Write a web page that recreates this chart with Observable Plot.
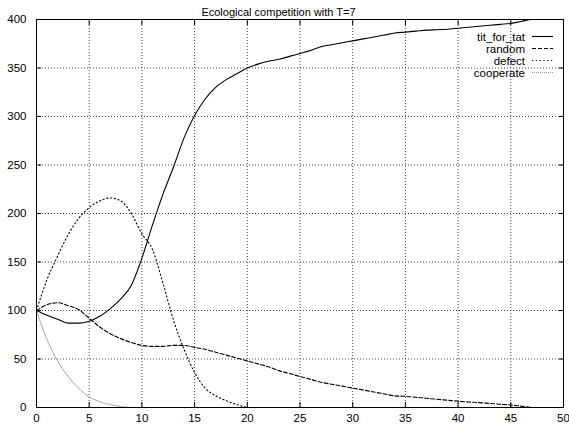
<!DOCTYPE html>
<html><head><meta charset="utf-8">
<script src="https://cdn.jsdelivr.net/npm/d3@7"></script>
<script src="https://cdn.jsdelivr.net/npm/@observablehq/plot@0.6"></script>
<style>body{margin:0;background:#fff} svg{display:block}</style>
</head><body><div id="chart"></div>
<script>
const title = "Ecological competition with T=7";
const seriesNames = ["tit_for_tat", "random", "defect", "cooperate"];
// values indexed by generation (0, 1, 2, ...)
const titForTat = [100,95,91,87,87,89,94,102,112,126,154,188,220,248,278,301,318,330,338,344,350,354,357,359,362,365,368,372,374,376,378,380,382,384,386,387,388,389,389.5,390,391,392,393,394,395,396,398,400,400,400,400];
const randomS = [100,106,108,105,101,92,83,76,71,67,64,63,63,64,64,62,60,57,54,51,48,45,42,38,35,32,29,26,24,22,20,18,16,14,12,11.5,10.5,9.5,8.5,7.5,6.5,5.7,5,4.2,3.4,2.6,1.3,0];
const defect = [100,132,156,178,195,206,213,216,213,200,179,163,128,90,60,36,20,12,7,3,0];
const cooperate = [100,70,48,32,20,11,6,3,1,0];
const xTicks = [0,5,10,15,20,25,30,35,40,45,50];
const yTicks = [0,50,100,150,200,250,300,350,400];

const allSeries = [titForTat, randomS, defect, cooperate];
const rows = [];
allSeries.forEach((vals, s) => vals.forEach((v, g) => rows.push({series: seriesNames[s], gen: g, value: v})));

const styles = {
  tit_for_tat: {stroke: "#000", dash: null, width: 1.1},
  random: {stroke: "#000", dash: "4,2", width: 1.1},
  defect: {stroke: "#000", dash: "1.2,2.6", width: 1.1},
  cooperate: {stroke: "#999", dash: "1,1", width: 1}
};

const font = "'Liberation Sans', Arial, Helvetica, sans-serif";
const noText = () => "";

const svg = Plot.plot({
  width: 569, height: 429,
  marginLeft: 36, marginRight: 6, marginTop: 19, marginBottom: 22,
  style: {fontFamily: font, fontSize: "11.5px", color: "#000", background: "#fff"},
  x: {domain: [0, 50]},
  y: {domain: [0, 400]},
  marks: [
    Plot.gridX(xTicks, {stroke: "#444", strokeOpacity: 1, strokeDasharray: "1,2"}),
    Plot.gridY(yTicks, {stroke: "#444", strokeOpacity: 1, strokeDasharray: "1,2"}),
    ...seriesNames.map(name => Plot.line(rows.filter(r => r.series === name), {
      x: "gen", y: "value", curve: "monotone-x", stroke: styles[name].stroke,
      strokeWidth: styles[name].width, strokeDasharray: styles[name].dash
    })),
    Plot.frame({stroke: "#000", strokeWidth: 1}),
    Plot.axisX({ticks: xTicks, tickSize: 0, tickPadding: 6, label: null, fontSize: 11.5}),
    Plot.axisY({ticks: yTicks, tickSize: 0, tickPadding: 10, label: null, fontSize: 11.5}),
    Plot.axisX({ticks: xTicks, anchor: "bottom", tickSize: -5, tickFormat: noText, label: null}),
    Plot.axisX({ticks: xTicks, anchor: "top", tickSize: -5, tickFormat: noText, label: null}),
    Plot.axisY({ticks: yTicks, anchor: "left", tickSize: -5, tickFormat: noText, label: null}),
    Plot.axisY({ticks: yTicks, anchor: "right", tickSize: -5, tickFormat: noText, label: null}),
    Plot.text([title], {frameAnchor: "top-left", dx: 242, dy: -11, textAnchor: "middle", fontSize: 11})
  ]
});

// legend (top right, gnuplot style)
const lg = d3.select(svg).append("g").attr("font-family", font).attr("font-size", 11.5);
seriesNames.forEach((name, i) => {
  const y = 36.5 + 12 * i;
  lg.append("text").attr("x", 525).attr("y", y).attr("dy", "0.35em")
    .attr("text-anchor", "end").attr("fill", "#000").text(name);
  lg.append("line").attr("x1", 532).attr("x2", 553).attr("y1", y).attr("y2", y)
    .attr("stroke", styles[name].stroke).attr("stroke-width", styles[name].width)
    .attr("stroke-dasharray", styles[name].dash);
});

document.getElementById("chart").appendChild(svg);
</script>
</body></html>
